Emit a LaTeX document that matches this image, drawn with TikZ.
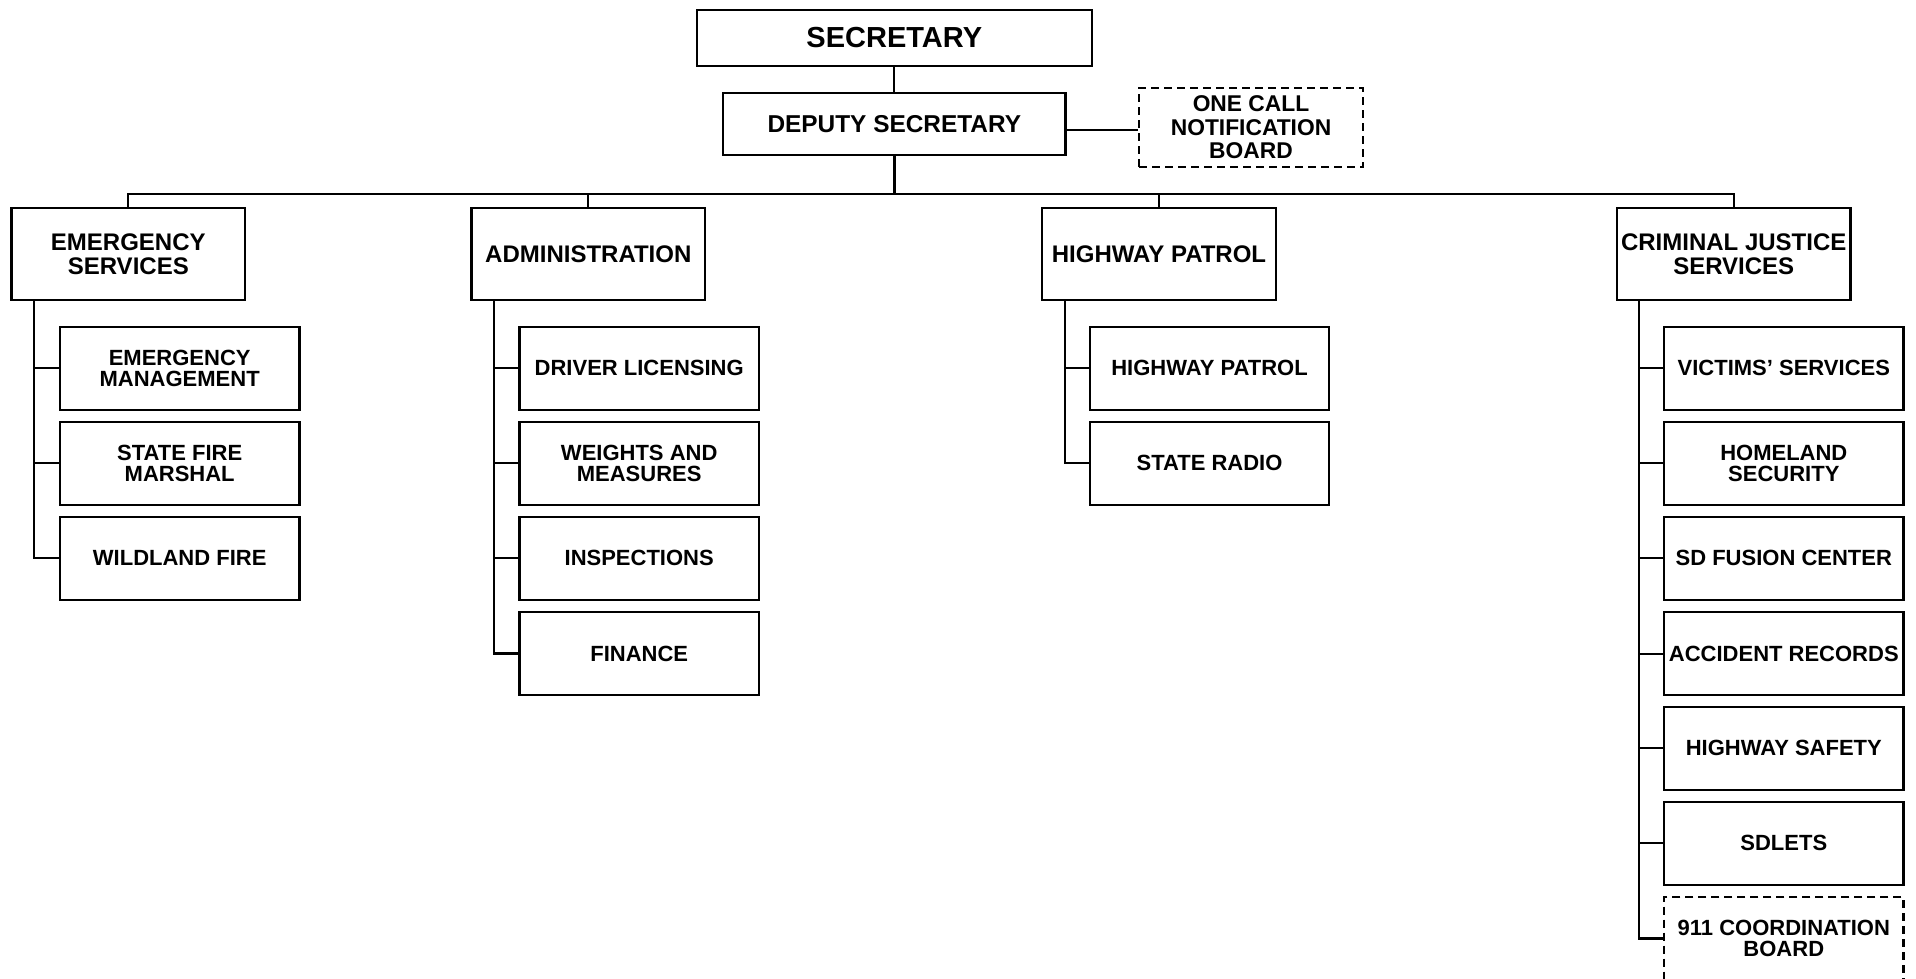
\documentclass[tikz,border=0pt]{standalone}
\usepackage{fontspec}
\setmainfont{Liberation Sans}
\begin{document}
\begin{tikzpicture}[x=0.5pt, y=-0.5pt,
  box/.style={draw, line width=1.1pt, inner sep=0pt, align=center},
  topbox/.style={box, minimum width=197.35pt, minimum height=28pt,
    font=\bfseries\fontsize{14.5}{16}\selectfont},
  depbox/.style={box, minimum width=171.15pt, minimum height=31.15pt,
    font=\bfseries\fontsize{12.2}{14}\selectfont},
  boardbox/.style={box, dashed, dash pattern=on 4pt off 2.5pt, minimum width=112pt, minimum height=39.35pt,
    font=\bfseries\fontsize{11.4}{11.8}\selectfont},
  headbox/.style={box, minimum width=116.75pt, minimum height=46pt,
    font=\bfseries\fontsize{12}{12}\selectfont},
  subbox/.style={box, minimum width=119.75pt, minimum height=41.65pt,
    font=\bfseries\fontsize{11}{10.8}\selectfont},
  dashbox/.style={subbox, dashed, dash pattern=on 4pt off 2.5pt},
  link/.style={line width=1pt},
  trunk/.style={line width=1.1pt}
]
\useasboundingbox (0,0) rectangle (1916,979);

% top of the chart
\node[topbox] (sec) at (894.3,38) {SECRETARY};
\node[depbox] (dep) at (894.3,124) {DEPUTY SECRETARY};
\node[boardbox] (onecall) at (1251,127.3) {ONE CALL\\NOTIFICATION\\BOARD};

% divisions
\node[headbox] (es)  at (128.3,254.2) {EMERGENCY\\SERVICES};
\node[headbox] (adm) at (588.3,254.2) {ADMINISTRATION};
\node[headbox] (hp)  at (1159,254.2) {HIGHWAY PATROL};
\node[headbox] (cjs) at (1733.7,254.2) {CRIMINAL JUSTICE\\SERVICES};

% emergency services units
\node[subbox] (es1) at (179.7,368.3) {EMERGENCY\\MANAGEMENT};
\node[subbox] (es2) at (179.7,463.3) {STATE FIRE\\MARSHAL};
\node[subbox] (es3) at (179.7,558.3) {WILDLAND FIRE};

% administration units
\node[subbox] (adm1) at (639.2,368.3) {DRIVER LICENSING};
\node[subbox] (adm2) at (639.2,463.3) {WEIGHTS AND\\MEASURES};
\node[subbox] (adm3) at (639.2,558.3) {INSPECTIONS};
\node[subbox] (adm4) at (639.2,653.5) {FINANCE};

% highway patrol units
\node[subbox] (hp1) at (1209.5,368.3) {HIGHWAY PATROL};
\node[subbox] (hp2) at (1209.5,463.3) {STATE RADIO};

% criminal justice units
\node[subbox] (cjs1) at (1783.8,368.3) {VICTIMS’ SERVICES};
\node[subbox] (cjs2) at (1783.8,463.3) {HOMELAND\\SECURITY};
\node[subbox] (cjs3) at (1783.8,558.3) {SD FUSION CENTER};
\node[subbox] (cjs4) at (1783.8,653.5) {ACCIDENT RECORDS};
\node[subbox] (cjs5) at (1783.8,748.3) {HIGHWAY SAFETY};
\node[subbox] (cjs6) at (1783.8,843.3) {SDLETS};
\node[dashbox] (cjs7) at (1783.8,938.5) {911 COORDINATION\\BOARD};

% upper connectors
\draw[link] (sec) -- (dep);
\coordinate (oc) at (1000,130);
\draw[link] (dep.east |- oc) -- (onecall.west |- oc);
\coordinate (bus) at (894.3,194);
\draw[line width=1.4pt] (dep.south) -- (dep.south |- bus);
\draw[link] (es.north) -- (es.north |- bus) -- (cjs.north |- bus) -- (cjs.north);
\draw[link] (adm.north) -- (adm.north |- bus);
\draw[link] (hp.north) -- (hp.north |- bus);

% trunks down the left side of each division
\coordinate (es-t)  at ([xshift=11.75pt]es.south west);
\coordinate (adm-t) at ([xshift=11.75pt]adm.south west);
\coordinate (hp-t)  at ([xshift=11.75pt]hp.south west);
\coordinate (cjs-t) at ([xshift=11.75pt]cjs.south west);

\draw[trunk] (es-t) |- (es3.west);
\foreach \n in {es1,es2} \draw[link] (es-t |- \n.west) -- (\n.west);

\draw[trunk] (adm-t) |- (adm4.west);
\foreach \n in {adm1,adm2,adm3} \draw[link] (adm-t |- \n.west) -- (\n.west);

\draw[trunk] (hp-t) |- (hp2.west);
\draw[link] (hp-t |- hp1.west) -- (hp1.west);

\draw[trunk] (cjs-t) |- (cjs7.west);
\foreach \n in {cjs1,cjs2,cjs3,cjs4,cjs5,cjs6} \draw[link] (cjs-t |- \n.west) -- (\n.west);
\end{tikzpicture}
\end{document}
